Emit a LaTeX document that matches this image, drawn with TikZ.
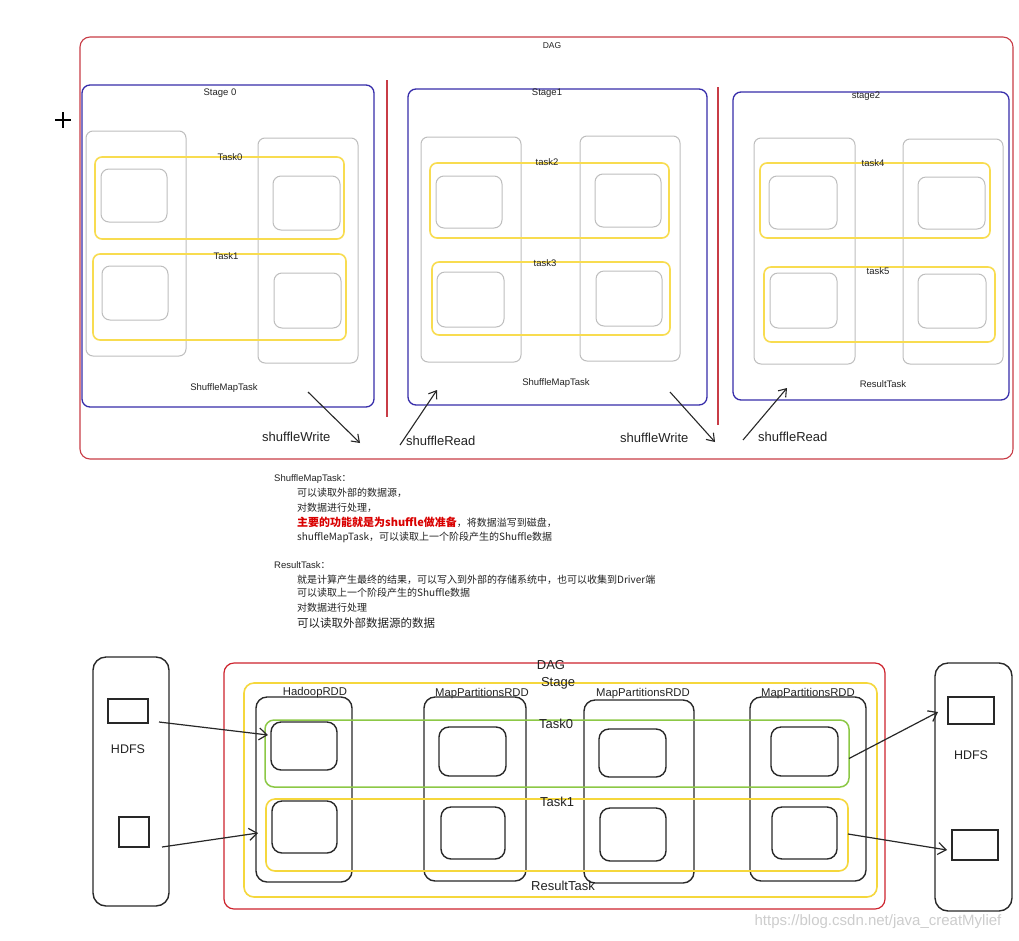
\documentclass[tikz,border=0pt]{standalone}
\usepackage{fontspec}
\setmainfont{Liberation Sans}
\newfontfamily\cjk{Noto Sans CJK SC}
\usetikzlibrary{fit,arrows.meta}
\definecolor{dagred}{RGB}{200,60,70}
\definecolor{stblue}{RGB}{55,45,170}
\definecolor{lgray}{RGB}{190,190,190}
\definecolor{tyel}{RGB}{248,220,80}
\definecolor{bred}{RGB}{205,35,45}
\definecolor{bgreen}{RGB}{140,200,70}
\definecolor{byel}{RGB}{245,215,60}
\definecolor{bblack}{RGB}{40,40,40}
\definecolor{txt}{RGB}{35,35,35}
\definecolor{wm}{RGB}{205,205,205}
\newcommand{\bxn}[6]{\node[#1, fit={(#3,#4) (#5,#6)}] (#2) {};}
\tikzset{
  bx/.style={inner sep=0pt, outer sep=0pt, draw},
  dagtop/.style={bx, draw=dagred, line width=1.1pt, rounded corners=10pt},
  stagebox/.style={bx, draw=stblue, line width=1.3pt, rounded corners=8pt},
  colbox/.style={bx, draw=lgray, line width=1pt, rounded corners=7pt},
  taskbox/.style={bx, draw=tyel, line width=1.6pt, rounded corners=7pt},
  partbox/.style={bx, draw=lgray, line width=1pt, rounded corners=8pt},
  sep/.style={draw=dagred, line width=1.1pt},
  lab/.style={inner sep=0pt, text=txt, font=\fontsize{9.5}{11}\selectfont},
  biglab/.style={inner sep=0pt, text=txt, font=\fontsize{13}{15}\selectfont},
  shufarrow/.style={draw=bblack, line width=1.1pt, -{Straight Barb[length=7pt,width=10pt]}},
  note/.style={inner sep=0pt, anchor=west, text=txt, font=\cjk\fontsize{10}{12}\selectfont},
  dagbot/.style={bx, draw=bred, line width=1.2pt, rounded corners=10pt},
  stagebot/.style={bx, draw=byel, line width=1.6pt, rounded corners=10pt},
  task0bot/.style={bx, draw=bgreen, line width=1.5pt, rounded corners=9pt},
  task1bot/.style={bx, draw=byel, line width=1.6pt, rounded corners=9pt},
  rddbox/.style={bx, draw=bblack, line width=1.4pt, rounded corners=11pt},
  partbot/.style={bx, draw=bblack, line width=1.4pt, rounded corners=10pt},
  hdfsbox/.style={bx, draw=bblack, line width=1.4pt, rounded corners=13pt},
  filebox/.style={bx, draw=bblack, line width=1.4pt},
  rddlab/.style={inner sep=0pt, text=txt, font=\fontsize{11.3}{13}\selectfont},
  hdfsarrow/.style={draw=bblack, line width=1.2pt, -{Straight Barb[length=8pt,width=12pt]}}
}
\begin{document}
\begin{tikzpicture}[x=1pt,y=-1pt]
\useasboundingbox (0,0) rectangle (1019,940);
\fill[white] (0,0) rectangle (1019,940);

% cursor plus
\draw[line width=1.1pt,black] (55,120) -- (71,120) (63,112) -- (63,128);

% ===== top DAG =====
\bxn{dagtop}{dag}{80}{37}{1013}{459}
\node[lab, font=\fontsize{8.5}{10}\selectfont] (daglab) at (552,46) {DAG};
\draw[sep] (387,80) -- (387,417);
\draw[sep] (718,87) -- (718,425);

% Stage 0
\bxn{stagebox}{s0}{82}{85}{374}{407}
\node[lab] (s0lab) at (220,93) {Stage 0};
\bxn{colbox}{s0c1}{86}{131}{186}{356}
\bxn{colbox}{s0c2}{258}{138}{358}{363}
\bxn{taskbox}{t0}{95}{157}{344}{239}
\bxn{taskbox}{t1}{93}{254}{346}{340}
\node[lab] (t0lab) at (230,157) {Task0};
\node[lab] (t1lab) at (226,256) {Task1};
\bxn{partbox}{s0p1}{101}{169}{167}{222}
\bxn{partbox}{s0p2}{273}{176}{340}{230}
\bxn{partbox}{s0p3}{102}{266}{168}{320}
\bxn{partbox}{s0p4}{274}{273}{341}{328}
\node[lab] (s0task) at (224,388) {ShuffleMapTask};

% Stage 1
\bxn{stagebox}{s1}{408}{89}{707}{405}
\node[lab] (s1lab) at (547,93) {Stage1};
\bxn{colbox}{s1c1}{421}{137}{521}{362}
\bxn{colbox}{s1c2}{580}{136}{680}{361}
\bxn{taskbox}{t2}{430}{163}{669}{238}
\bxn{taskbox}{t3}{432}{262}{670}{335}
\node[lab] (t2lab) at (547,162) {task2};
\node[lab] (t3lab) at (545,263) {task3};
\bxn{partbox}{s1p1}{436}{176}{502}{228}
\bxn{partbox}{s1p2}{595}{174}{661}{227}
\bxn{partbox}{s1p3}{437}{272}{504}{327}
\bxn{partbox}{s1p4}{596}{271}{662}{326}
\node[lab] (s1task) at (556,383) {ShuffleMapTask};

% Stage 2
\bxn{stagebox}{s2}{733}{92}{1009}{400}
\node[lab] (s2lab) at (866,96) {stage2};
\bxn{colbox}{s2c1}{754}{138}{855}{364}
\bxn{colbox}{s2c2}{903}{139}{1003}{364}
\bxn{taskbox}{t4}{760}{163}{990}{238}
\bxn{taskbox}{t5}{764}{267}{995}{342}
\node[lab] (t4lab) at (873,163) {task4};
\node[lab] (t5lab) at (878,271) {task5};
\bxn{partbox}{s2p1}{769}{176}{837}{229}
\bxn{partbox}{s2p2}{918}{177}{985}{229}
\bxn{partbox}{s2p3}{770}{273}{837}{328}
\bxn{partbox}{s2p4}{918}{274}{986}{328}
\node[lab] (s2task) at (883,384) {ResultTask};

% shuffle arrows
\coordinate (w1a) at (308,392); \coordinate (w1b) at (360,443);
\coordinate (r1a) at (400,445); \coordinate (r1b) at (437,390);
\coordinate (w2a) at (670,392); \coordinate (w2b) at (715,442);
\coordinate (r2a) at (743,440); \coordinate (r2b) at (787,388);
\draw[shufarrow] (w1a) -- (w1b);
\draw[shufarrow] (r1a) -- (r1b);
\draw[shufarrow] (w2a) -- (w2b);
\draw[shufarrow] (r2a) -- (r2b);
\node[biglab, anchor=west] (w1lab) at (262,437) {shuffleWrite};
\node[biglab, anchor=west] (r1lab) at (406,441) {shuffleRead};
\node[biglab, anchor=west] (w2lab) at (620,438) {shuffleWrite};
\node[biglab, anchor=west] (r2lab) at (758,437) {shuffleRead};

% ===== notes =====
\node[note, font=\fontsize{9.5}{11}\selectfont] (n1) at (274,479) {ShuffleMapTask{\cjk ：}};
\node[note] (n2) at (297,493) {可以读取外部的数据源，};
\node[note] (n3) at (297,508) {对数据进行处理，};
\node[note] (n4) at (297,522) {{\color{red!85!black}\fontsize{11}{13}\selectfont\bfseries 主要的功能就是为shuffle做准备}，将数据溢写到磁盘，};
\node[note] (n5) at (297,537) {shuffleMapTask，可以读取上一个阶段产生的Shuffle数据};
\node[note, font=\fontsize{9.5}{11}\selectfont] (n6) at (274,565) {ResultTask{\cjk ：}};
\node[note] (n7) at (297,580) {就是计算产生最终的结果，可以写入到外部的存储系统中，也可以收集到Driver端};
\node[note] (n8) at (297,593) {可以读取上一个阶段产生的Shuffle数据};
\node[note] (n9) at (297,608) {对数据进行处理};
\node[note, font=\cjk\fontsize{11.5}{13}\selectfont] (n10) at (297,623) {可以读取外部数据源的数据};

% ===== bottom =====
\bxn{hdfsbox}{hdfsL}{93}{657}{169}{906}
\bxn{filebox}{fL1}{108}{699}{148}{723}
\bxn{filebox}{fL2}{119}{817}{149}{847}
\node[rddlab, font=\fontsize{12.5}{14}\selectfont] (hdfsLlab) at (128,749) {HDFS};

\bxn{hdfsbox}{hdfsR}{935}{663}{1012}{911}
\bxn{filebox}{fR1}{948}{697}{994}{724}
\bxn{filebox}{fR2}{952}{830}{998}{860}
\node[rddlab, font=\fontsize{12.5}{14}\selectfont] (hdfsRlab) at (971,755) {HDFS};

\bxn{dagbot}{dagb}{224}{663}{885}{909}
\bxn{stagebot}{stb}{244}{683}{877}{897}
\bxn{rddbox}{rdd1}{256}{697}{352}{882}
\bxn{rddbox}{rdd2}{424}{697}{526}{881}
\bxn{rddbox}{rdd3}{584}{700}{694}{883}
\bxn{rddbox}{rdd4}{750}{697}{866}{881}
\bxn{task0bot}{bt0}{265}{720}{849}{787}
\bxn{task1bot}{bt1}{266}{799}{848}{871}
\bxn{partbot}{b11}{271}{722}{337}{770}
\bxn{partbot}{b12}{272}{801}{337}{853}
\bxn{partbot}{b21}{439}{727}{506}{776}
\bxn{partbot}{b22}{441}{807}{505}{859}
\bxn{partbot}{b31}{599}{729}{666}{777}
\bxn{partbot}{b32}{600}{808}{666}{861}
\bxn{partbot}{b41}{771}{727}{838}{776}
\bxn{partbot}{b42}{772}{807}{837}{859}

\node[biglab] (dagblab) at (551,665) {DAG};
\node[biglab] (stblab) at (558,683) {Stage};
\node[biglab] (bt0lab) at (556,724) {Task0};
\node[biglab] (bt1lab) at (557,802) {Task1};
\node[biglab] (rtlab) at (563,886) {ResultTask};
\node[rddlab] (rdd1lab) at (315,693) {HadoopRDD};
\node[rddlab] (rdd2lab) at (482,694) {MapPartitionsRDD};
\node[rddlab] (rdd3lab) at (643,694) {MapPartitionsRDD};
\node[rddlab] (rdd4lab) at (808,694) {MapPartitionsRDD};

\coordinate (a1s) at ([xshift=11pt,yshift=-11pt]fL1.east);
\coordinate (a1e) at (268,735);
\coordinate (a2s) at ([xshift=13pt]fL2.south east);
\coordinate (a2e) at (258,833);
\coordinate (a3s) at (bt0.east);
\coordinate (a3e) at (938,712);
\coordinate (a4s) at (848,834);
\coordinate (a4e) at (947,850);
\draw[hdfsarrow] (a1s) -- (a1e);
\draw[hdfsarrow] (a2s) -- (a2e);
\draw[hdfsarrow] ([yshift=-5pt]a3s) -- (a3e);
\draw[hdfsarrow] (a4s) -- (a4e);

\node[inner sep=0pt, text=wm, font=\fontsize{15}{17}\selectfont] (wmark) at (878,922) {https://blog.csdn.net/java\_creatMylief};
\end{tikzpicture}
\end{document}
